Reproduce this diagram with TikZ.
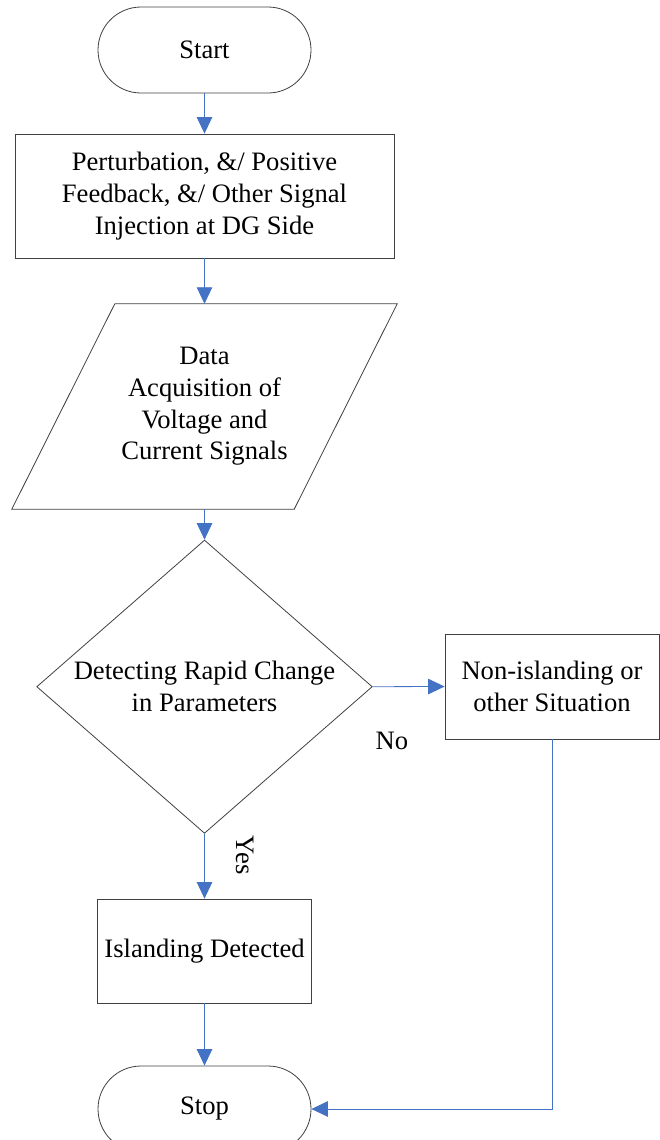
\documentclass[tikz,border=0pt]{standalone}
\usepackage{fontspec}
\setmainfont{Liberation Serif}
\usetikzlibrary{shapes.geometric,arrows.meta,calc}
\definecolor{flowblue}{HTML}{4472C4}
\definecolor{edgegray}{HTML}{404040}
\begin{document}
\begin{tikzpicture}[x=1bp,y=-1bp,
  every node/.style={font=\fontsize{26.7pt}{31.8pt}\selectfont, inner sep=0pt, align=center},
  outline/.style={draw=edgegray, line width=0.8bp},
  term/.style={outline, rectangle, rounded corners=43bp, minimum width=213bp, minimum height=86bp},
  procbox/.style={outline, rectangle},
  iobox/.style={rectangle, minimum width=385bp, minimum height=205bp},
  decision/.style={outline, diamond, minimum width=335.6bp, minimum height=293.3bp, aspect=1.144},
  flow/.style={draw=flowblue, line width=0.8bp, -{Triangle[length=16.5bp, width=15.5bp, fill=flowblue]}}]
\useasboundingbox (0,0) rectangle (660,1140);
\clip (0,0) rectangle (660,1140);

\node[term] (start) at (204.5,50) {Start};
\node[procbox, minimum width=379bp, minimum height=124bp] (inj) at (204.5,196)
  {Perturbation, \&/ Positive\\Feedback, \&/ Other Signal\\Injection at DG Side};
\node[iobox] (acq) at (204.5,406.5) {Data\\Acquisition of\\Voltage and\\Current Signals};
\draw[outline] ($(acq.north west)+(103,0)$) -- (acq.north east) -- ($(acq.south east)+(-103,0)$) -- (acq.south west) -- cycle;
\node[decision] (dec) at (204.5,686.7) {Detecting Rapid Change\\in Parameters};
\node[procbox, minimum width=214bp, minimum height=105bp] (non) at (552,686.5) {Non-islanding or\\other Situation};
\node[procbox, minimum width=214bp, minimum height=104bp] (isl) at (204.5,951) {Islanding Detected};
\node[term] (stop) at (204.5,1109) {Stop};

\node (no) at (392,741) {No};
\node[rotate=-90] (yes) at (245,855) {Yes};

\draw[flow] (start.south) -- (inj.north);
\draw[flow] (inj.south) -- (acq.north);
\draw[flow] (acq.south) -- (dec.north);
\draw[flow] (dec.east) -- (non.west);
\draw[flow] (dec.south) -- (isl.north);
\draw[flow] (isl.south) -- (stop.north);
\draw[flow] (non.south) |- (stop.east);
\end{tikzpicture}
\end{document}
